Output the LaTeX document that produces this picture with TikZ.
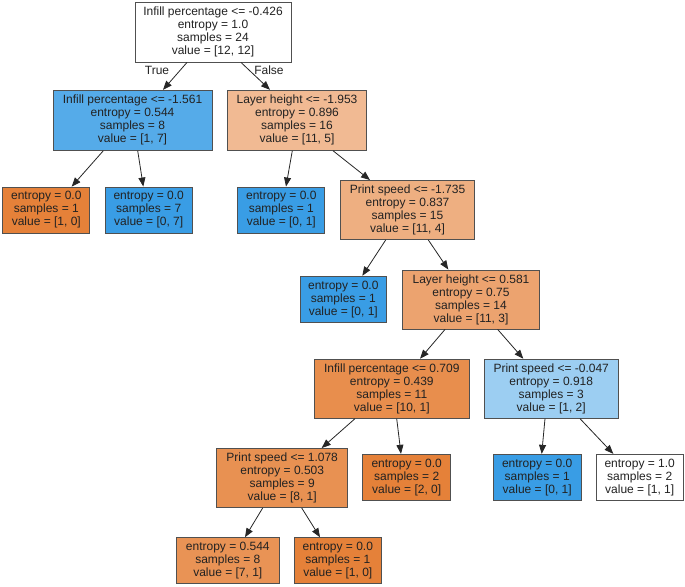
\documentclass[tikz,border=0pt]{standalone}
\usepackage{fontspec}
\setmainfont{Liberation Sans}
\usetikzlibrary{arrows.meta}
\definecolor{bord}{HTML}{505050}
\definecolor{txt}{HTML}{222222}
\definecolor{cA}{RGB}{85,171,233}
\definecolor{cB}{RGB}{241,186,147}
\definecolor{cC}{RGB}{238,175,129}
\definecolor{cD}{RGB}{236,163,111}
\definecolor{cE}{RGB}{232,142,77}
\definecolor{cF}{RGB}{156,206,242}
\definecolor{cG}{RGB}{232,145,82}
\definecolor{cGa}{RGB}{233,147,85}
\definecolor{orng}{RGB}{229,129,57}
\definecolor{blu}{RGB}{57,157,229}
\tikzset{
  tnode/.style={draw=bord, line width=0.9pt, rectangle, align=center, inner sep=0pt,
    text=txt, font=\fontsize{12}{13}\selectfont},
  split/.style={tnode, minimum height=59pt},
  leaf/.style={tnode, minimum height=46pt},
  edge/.style={draw=black!85, line width=0.8pt, -{Triangle[length=9pt,width=7pt]}},
  elab/.style={text=txt, font=\fontsize{12}{13}\selectfont, inner sep=0pt}
}
\begin{document}
\begin{tikzpicture}[x=1pt,y=-1pt]
\useasboundingbox (0,0) rectangle (685,586);
\node[split, fill=white, minimum width=156pt, minimum height=60pt] (root) at (213,32)
  {Infill percentage <= -0.426\\entropy = 1.0\\samples = 24\\value = [12, 12]};
\node[split, fill=cA, minimum width=159pt, minimum height=60pt] (A) at (132.5,120.3)
  {Infill percentage <= -1.561\\entropy = 0.544\\samples = 8\\value = [1, 7]};
\node[split, fill=cB, minimum width=139pt, minimum height=60pt] (B) at (297,120.3)
  {Layer height <= -1.953\\entropy = 0.896\\samples = 16\\value = [11, 5]};
\node[leaf, fill=orng, minimum width=87pt] (A1) at (46.3,210)
  {entropy = 0.0\\samples = 1\\value = [1, 0]};
\node[leaf, fill=blu, minimum width=87pt] (A2) at (148.7,210)
  {entropy = 0.0\\samples = 7\\value = [0, 7]};
\node[leaf, fill=blu, minimum width=87pt] (B1) at (281.3,210)
  {entropy = 0.0\\samples = 1\\value = [0, 1]};
\node[split, fill=cC, minimum width=133.6pt] (C) at (407.5,210)
  {Print speed <= -1.735\\entropy = 0.837\\samples = 15\\value = [11, 4]};
\node[leaf, fill=blu, minimum width=86.7pt] (C1) at (343.3,299.2)
  {entropy = 0.0\\samples = 1\\value = [0, 1]};
\node[split, fill=cD, minimum width=136.7pt] (D) at (471,299.5)
  {Layer height <= 0.581\\entropy = 0.75\\samples = 14\\value = [11, 3]};
\node[split, fill=cE, minimum width=155pt] (E) at (391.8,388.7)
  {Infill percentage <= 0.709\\entropy = 0.439\\samples = 11\\value = [10, 1]};
\node[split, fill=cF, minimum width=134.3pt] (F) at (551.2,388.7)
  {Print speed <= -0.047\\entropy = 0.918\\samples = 3\\value = [1, 2]};
\node[split, fill=cG, minimum width=131pt] (G) at (282.2,478)
  {Print speed <= 1.078\\entropy = 0.503\\samples = 9\\value = [8, 1]};
\node[leaf, fill=orng, minimum width=88pt] (E2) at (406.7,477.3)
  {entropy = 0.0\\samples = 2\\value = [2, 0]};
\node[leaf, fill=blu, minimum width=87.7pt] (F1) at (537.2,477.3)
  {entropy = 0.0\\samples = 1\\value = [0, 1]};
\node[leaf, fill=white, minimum width=87.3pt] (F2) at (639.7,477.3)
  {entropy = 1.0\\samples = 2\\value = [1, 1]};
\node[leaf, fill=cGa, minimum width=102.3pt] (G1) at (227.8,560.7)
  {entropy = 0.544\\samples = 8\\value = [7, 1]};
\node[leaf, fill=orng, minimum width=87.7pt] (G2) at (337.8,560.7)
  {entropy = 0.0\\samples = 1\\value = [1, 0]};
% edges
\draw[edge] ([xshift=-26pt]root.south) -- ([xshift=30.5pt]A.north);
\draw[edge] ([xshift=28pt]root.south) -- ([xshift=-27pt]B.north);
\draw[edge] ([xshift=-29.2pt]A.south) -- ([xshift=25.4pt]A1.north);
\draw[edge] ([xshift=5.2pt]A.south) -- ([xshift=-5.4pt]A2.north);
\draw[edge] ([xshift=-4.7pt]B.south) -- ([xshift=4.7pt]B1.north);
\draw[edge] ([xshift=36pt]B.south) -- ([xshift=-37.5pt]C.north);
\draw[edge] ([xshift=-21.8pt]C.south) -- ([xshift=19pt]C1.north);
\draw[edge] ([xshift=20.8pt]C.south) -- ([xshift=-22.7pt]D.north);
\draw[edge] ([xshift=-26pt]D.south) -- ([xshift=28.2pt]E.north);
\draw[edge] ([xshift=26.7pt]D.south) -- ([xshift=-27.9pt]F.north);
\draw[edge] ([xshift=-36.8pt]E.south) -- ([xshift=39.5pt]G.north);
\draw[edge] ([xshift=4.9pt]E.south) -- ([xshift=-5.7pt]E2.north);
\draw[edge] ([xshift=-6.2pt]F.south) -- ([xshift=4.5pt]F1.north);
\draw[edge] ([xshift=28.8pt]F.south) -- ([xshift=-26.4pt]F2.north);
\draw[edge] ([xshift=-19.5pt]G.south) -- ([xshift=17.2pt]G1.north);
\draw[edge] ([xshift=19.5pt]G.south) -- ([xshift=-17.8pt]G2.north);
\node[elab] (tlab) at (157,70) {True};
\node[elab] (flab) at (269,70) {False};
\end{tikzpicture}
\end{document}
